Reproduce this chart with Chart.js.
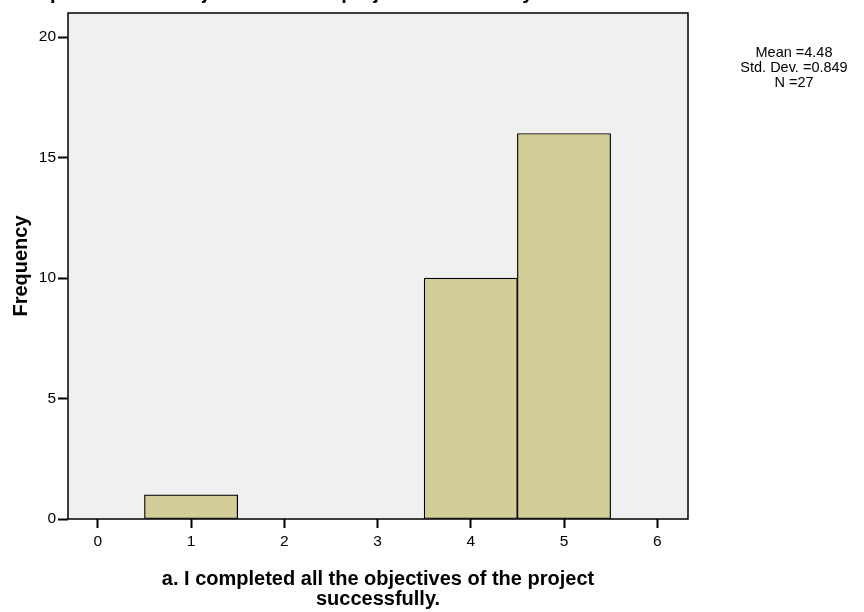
<!DOCTYPE html>
<html>
<head>
<meta charset="utf-8">
<script src="https://cdn.jsdelivr.net/npm/chart.js@4/dist/chart.umd.min.js"></script>
<style>
  html, body { margin: 0; padding: 0; background: #fff; }
  #wrap { width: 864px; height: 612px; position: relative; }
</style>
</head>
<body>
<div id="wrap"><canvas id="myChart"></canvas></div>
<script>
// histogram bins (response value) and counts
const bins = [1, 2, 3, 4, 5];
const counts = [1, 0, 0, 10, 16];
const xTicks = [0, 1, 2, 3, 4, 5, 6];
const yTicks = [0, 5, 10, 15, 20];
const statLines = ['Mean =4.48', 'Std. Dev. =0.849', 'N =27'];
const xTitle = ['a. I completed all the objectives of the project', 'successfully.'];
const topTitle = 'a. I completed all the objectives of the project successfully.';

const FONT = "'Liberation Sans', Arial, sans-serif";

// plot frame + grey background, SPSS style
const framePlugin = {
    id: 'frame',
    beforeDatasetsDraw(chart) {
        const { ctx, chartArea: a } = chart;
        ctx.save();
        ctx.fillStyle = '#f0f0f0';
        ctx.fillRect(a.left, a.top, a.right - a.left, a.bottom - a.top);
        ctx.restore();
    },
    afterDatasetsDraw(chart) {
        const { ctx, chartArea: a } = chart;
        ctx.save();
        ctx.strokeStyle = '#000';
        ctx.lineWidth = 1.5;
        ctx.strokeRect(a.left, a.top, a.right - a.left, a.bottom - a.top);
        ctx.restore();
    },
    afterDraw(chart) {
        const { ctx } = chart;
        ctx.save();
        // stats box on the right
        ctx.fillStyle = '#000';
        ctx.font = '14.5px ' + FONT;
        ctx.textAlign = 'center';
        ctx.textBaseline = 'middle';
        statLines.forEach((t, i) => ctx.fillText(t, 794, 53 + i * 15));
        // title that is cut off at the top of the picture
        ctx.font = 'bold 20px ' + FONT;
        ctx.textAlign = 'left';
        ctx.textBaseline = 'alphabetic';
        const x0 = 50 - ctx.measureText('a. I com').width;
        ctx.fillText(topTitle, x0, -1);
        ctx.restore();
    }
};

const ctx = document.getElementById('myChart');
new Chart(ctx, {
    type: 'bar',
    data: {
        datasets: [{
            data: bins.map((b, i) => ({ x: b, y: counts[i] })).filter(p => p.y > 0),
            backgroundColor: '#d3ce98',
            borderColor: '#000',
            borderWidth: 1.2,
            borderSkipped: false,
            barPercentage: 1,
            categoryPercentage: 1
        }]
    },
    options: {
        responsive: true,
        maintainAspectRatio: false,
        animation: false,
        layout: { padding: { top: 13, right: 176, left: 6, bottom: 3 } },
        plugins: {
            legend: { display: false },
            tooltip: { enabled: false }
        },
        scales: {
            x: {
                type: 'linear',
                offset: false,
                min: -0.32,
                max: 6.33,
                afterBuildTicks: s => { s.ticks = xTicks.map(v => ({ value: v })); },
                ticks: {
                    color: '#000',
                    font: { size: 15.5, family: FONT },
                    padding: 4,
                    maxRotation: 0,
                    includeBounds: false
                },
                grid: {
                    offset: false,
                    drawOnChartArea: false,
                    tickLength: 9,
                    tickWidth: 2,
                    tickColor: '#000'
                },
                border: { display: false },
                title: {
                    display: true,
                    text: xTitle,
                    color: '#000',
                    font: { size: 20, weight: 'bold', family: FONT, lineHeight: 1.0 },
                    padding: { top: 19, bottom: 0 }
                },
                afterFit: s => { s.height = 612 - 519 - 3; }
            },
            y: {
                min: 0,
                max: 21,
                afterBuildTicks: s => { s.ticks = yTicks.map(v => ({ value: v })); },
                ticks: {
                    color: '#000',
                    font: { size: 15.5, family: FONT },
                    padding: 2,
                    includeBounds: false
                },
                grid: {
                    offset: false,
                    drawOnChartArea: false,
                    tickLength: 10,
                    tickWidth: 2,
                    tickColor: '#000'
                },
                border: { display: false },
                title: {
                    display: true,
                    text: 'Frequency',
                    color: '#000',
                    font: { size: 20, weight: 'bold', family: FONT },
                    padding: { top: 3, bottom: 4 }
                },
                afterFit: s => { s.width = 68 - 6; }
            }
        }
    },
    plugins: [framePlugin]
});
</script>
</body>
</html>
